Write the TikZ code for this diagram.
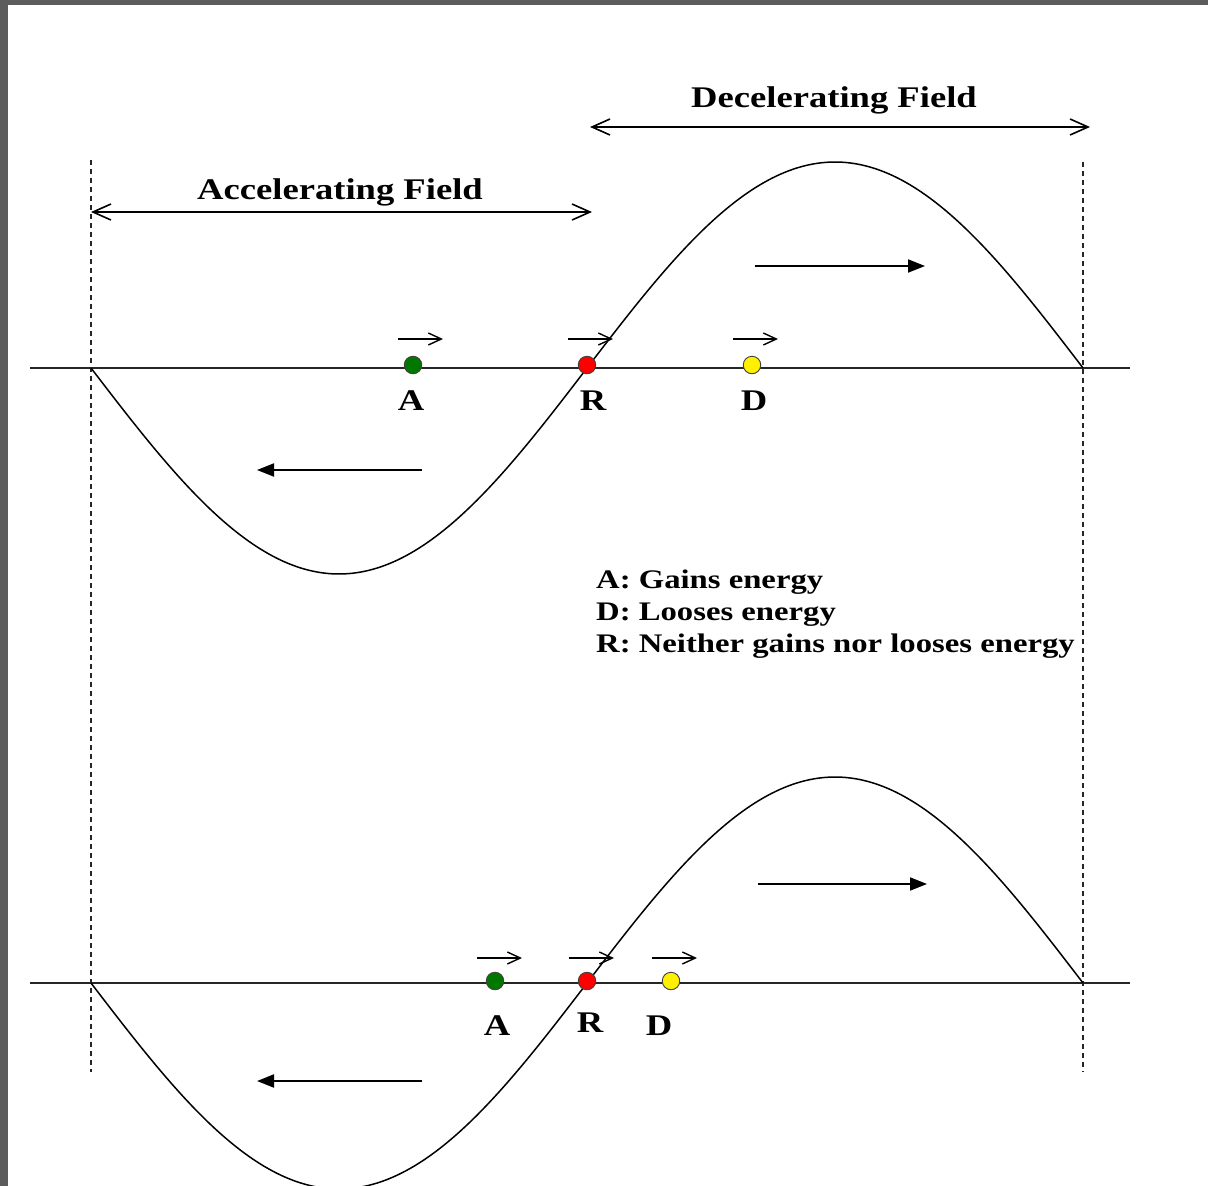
\documentclass[tikz,border=0pt]{standalone}
\usepackage{fontspec}
\newfontfamily\labfont[FakeStretch=1.22]{Liberation Serif}
\usetikzlibrary{arrows.meta}
\definecolor{frame}{RGB}{92,92,92}
\definecolor{dotgreen}{RGB}{0,120,0}
\definecolor{dotred}{RGB}{255,0,0}
\definecolor{dotyellow}{RGB}{255,240,0}
\begin{document}
\begin{tikzpicture}[x=1pt,y=-1pt,
  axisline/.style={line width=1.9pt, black!85},
  wave/.style={line width=1.5pt, black},
  guide/.style={line width=2.4pt, black!85, dash pattern=on 5pt off 4pt},
  fieldarrow/.style={line width=1.7pt, {Straight Barb[length=18pt,width=16pt,line width=1.6pt]}-{Straight Barb[length=18pt,width=16pt,line width=1.6pt]}},
  smallarrow/.style={line width=1.5pt, -{Straight Barb[length=13pt,width=12pt,line width=1.4pt]}},
  bigarrow/.style={line width=1.9pt, -{Triangle[length=17pt,width=13pt]}},
  dotnode/.style={circle, minimum size=17.5pt, inner sep=0pt, draw=black!75, line width=0.9pt},
  lab/.style={font=\labfont\bfseries\fontsize{30}{36}\selectfont, inner sep=0pt, anchor=base},
  legend/.style={font=\labfont\bfseries\fontsize{26.8}{32}\selectfont, inner sep=0pt, anchor=base west},
]
\useasboundingbox (0,0) rectangle (1208,1186);
\fill[white] (0,0) rectangle (1208,1186);
\fill[frame] (0,0) rectangle (1208,5);
\fill[frame] (0,0) rectangle (8,1186);

% guides
\coordinate (gL1) at (91,160); \coordinate (gL2) at (91,1072);
\coordinate (gR1) at (1083,162); \coordinate (gR2) at (1083,1072);
\draw[guide] (gL1) -- (gL2);
\draw[guide] (gR1) -- (gR2);

% axes
\coordinate (ax1a) at (30,368); \coordinate (ax1b) at (1130,368);
\coordinate (ax2a) at (30,983); \coordinate (ax2b) at (1130,983);
\draw[axisline] (ax1a) -- (ax1b);
\draw[axisline] (ax2a) -- (ax2b);

% waves
\begin{scope}
\clip (8,5) rectangle (1208,1186);
\draw[wave] plot[domain=91:1083, samples=240] (\x, {368 + 206*sin((\x-91)*0.3629032)});
\draw[wave] plot[domain=91:1083, samples=240] (\x, {983 + 206*sin((\x-91)*0.3629032)});
\end{scope}

% field arrows
\node[lab] (accl) at (340,199) {Accelerating Field};
\coordinate (acc1) at (91,212); \coordinate (acc2) at (592,212);
\draw[fieldarrow] (acc1) -- (acc2);
\node[lab] (decl) at (834,107) {Decelerating Field};
\coordinate (dec1) at (590,127); \coordinate (dec2) at (1090,127);
\draw[fieldarrow] (dec1) -- (dec2);

% big field direction arrows
\coordinate (r1s) at (755,266); \coordinate (r1e) at (925,266);
\draw[bigarrow] (r1s) -- (r1e);
\coordinate (l1s) at (422,470); \coordinate (l1e) at (257,470);
\draw[bigarrow] (l1s) -- (l1e);
\coordinate (r2s) at (758,884); \coordinate (r2e) at (927,884);
\draw[bigarrow] (r2s) -- (r2e);
\coordinate (l2s) at (422,1081); \coordinate (l2e) at (257,1081);
\draw[bigarrow] (l2s) -- (l2e);

% particles, wave 1
\node[dotnode, fill=dotgreen] (A1) at (413,365) {};
\node[dotnode, fill=dotred] (R1) at (587,365) {};
\node[dotnode, fill=dotyellow] (D1) at (752,365) {};
\coordinate (A1s) at (398,339); \coordinate (A1e) at (443,339);
\coordinate (R1s) at (568,339); \coordinate (R1e) at (613,339);
\coordinate (D1s) at (733,339); \coordinate (D1e) at (778,339);
\draw[smallarrow] (A1s) -- (A1e);
\draw[smallarrow] (R1s) -- (R1e);
\draw[smallarrow] (D1s) -- (D1e);
\node[lab] (lA1) at (411,410) {A};
\node[lab] (lR1) at (593,410) {R};
\node[lab] (lD1) at (754,410) {D};

% particles, wave 2
\node[dotnode, fill=dotgreen] (A2) at (495,981) {};
\node[dotnode, fill=dotred] (R2) at (587,981) {};
\node[dotnode, fill=dotyellow] (D2) at (671,981) {};
\coordinate (A2s) at (477,958); \coordinate (A2e) at (522,958);
\coordinate (R2s) at (569,958); \coordinate (R2e) at (614,958);
\coordinate (D2s) at (652,958); \coordinate (D2e) at (697,958);
\draw[smallarrow] (A2s) -- (A2e);
\draw[smallarrow] (R2s) -- (R2e);
\draw[smallarrow] (D2s) -- (D2e);
\node[lab] (lA2) at (497,1035) {A};
\node[lab] (lR2) at (590,1032) {R};
\node[lab] (lD2) at (659,1035) {D};

% legend
\node[legend] (leg1) at (596,588) {A: Gains energy};
\node[legend] (leg2) at (596,620) {D: Looses energy};
\node[legend] (leg3) at (596,652) {R: Neither gains nor looses energy};
\end{tikzpicture}
\end{document}
